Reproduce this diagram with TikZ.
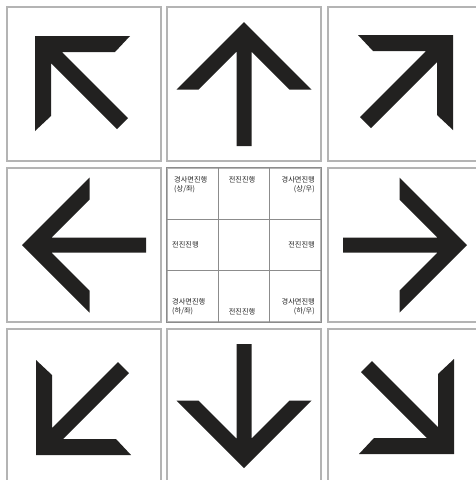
\documentclass[tikz,border=0pt]{standalone}
\usepackage{fontspec}
\newfontfamily\cjk{Noto Sans CJK KR}
\definecolor{arrowc}{HTML}{222120}
\definecolor{tileb}{HTML}{B4B4B4}
\definecolor{gridc}{HTML}{8C8C8C}
\tikzset{
  tile/.style={draw=tileb, line width=1.2pt, fill=white, minimum width=154pt, minimum height=154pt, inner sep=0pt},
  arrowfill/.style={fill=arrowc, draw=none},
  lbl/.style={font=\cjk\fontsize{7.2}{9}\selectfont, inner sep=0pt, text=black!85}
}
\newcommand{\straightarrow}{%
  \fill[arrowfill] (0,-62) -- (67.5,5.5) -- (45.5,5.5) -- (7.5,-32.5) -- (7.5,62) -- (-7.5,62) -- (-7.5,-32.5) -- (-45.5,5.5) -- (-67.5,5.5) -- cycle;}
\newcommand{\diagarrow}{%
  \fill[arrowfill] (-49,-48) -- (46,-48) -- (31,-32) -- (-22,-32) -- (44,34) -- (33,45) -- (-33,-21) -- (-33,32) -- (-49,47) -- cycle;}
\begin{document}
\begin{tikzpicture}[x=1pt,y=-1pt]
\useasboundingbox (0,0) rectangle (476,480);
\fill[white] (0,0) rectangle (476,480);
% tiles
\node[tile] (t11) at (84,84) {};
\node[tile] (t12) at (244,84) {};
\node[tile] (t13) at (405,84) {};
\node[tile] (t21) at (84,245) {};
\node[tile] (t22) at (244,245) {};
\node[tile] (t23) at (405,245) {};
\node[tile] (t31) at (84,406) {};
\node[tile] (t32) at (244,406) {};
\node[tile] (t33) at (405,406) {};
% arrows
\begin{scope}[shift={(t11.center)}]\diagarrow\end{scope}
\begin{scope}[shift={(t12.center)}]\straightarrow\end{scope}
\begin{scope}[shift={(t13.center)},rotate=-90]\diagarrow\end{scope}
\begin{scope}[shift={(t21.center)},rotate=90]\straightarrow\end{scope}
\begin{scope}[shift={(t23.center)},rotate=-90]\straightarrow\end{scope}
\begin{scope}[shift={(t31.center)},rotate=90]\diagarrow\end{scope}
\begin{scope}[shift={(t32.center)},rotate=180]\straightarrow\end{scope}
\begin{scope}[shift={(t33.center)},rotate=180]\diagarrow\end{scope}
% center grid
\draw[gridc, line width=0.8pt] (218.7,168) -- (218.7,322) (269.3,168) -- (269.3,322)
  (167,219.3) -- (321,219.3) (167,270.7) -- (321,270.7);
\draw[gridc, line width=1pt] (t22.north west) rectangle (t22.south east);
% labels
\node[lbl, anchor=north west, align=left] (l1) at (174,176) {경사면진행\\(상/좌)};
\node[lbl, anchor=north] (l2) at (242,176) {전진진행};
\node[lbl, anchor=north east, align=right] (l3) at (315,176) {경사면진행\\(상/우)};
\node[lbl, anchor=west] (l4) at (172,245) {전진진행};
\node[lbl, anchor=east] (l5) at (315,245) {전진진행};
\node[lbl, anchor=south west, align=left] (l6) at (172,315) {경사면진행\\(하/좌)};
\node[lbl, anchor=south] (l7) at (242,315) {전진진행};
\node[lbl, anchor=south east, align=right] (l8) at (315,315) {경사면진행\\(하/우)};
\end{tikzpicture}
\end{document}
